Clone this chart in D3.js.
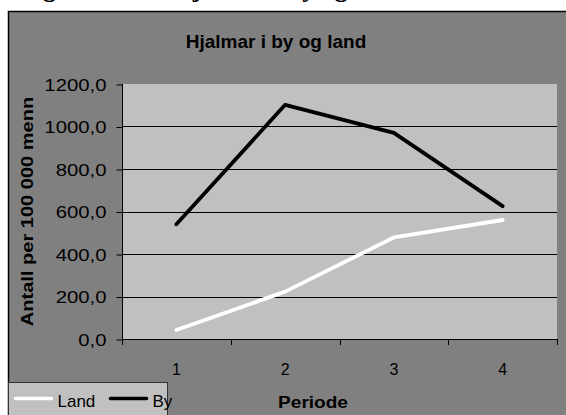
<!DOCTYPE html>
<html>
<head>
<meta charset="utf-8">
<script src="https://cdn.jsdelivr.net/npm/d3@7"></script>
<style>
  html, body { margin: 0; padding: 0; background: #fff; }
  svg { display: block; font-family: "Liberation Sans", Arial, sans-serif; }
</style>
</head>
<body>
<svg id="chart" width="566" height="415"></svg>
<script>
// ========= data =========
const periods = ["1", "2", "3", "4"];
const landValues = [42, 223, 478, 560];
const byValues = [540, 1102, 970, 625];
const yTicks = [0, 200, 400, 600, 800, 1000, 1200];

const series = [
    { name: "Land", values: landValues, color: "#ffffff" },
    { name: "By", values: byValues, color: "#000000" }
];

const FONT = "'Liberation Sans', Arial, sans-serif";

// ========= svg =========
const svg = d3.select("#chart");

// caption above the chart, mostly cut off by the top edge
svg.append("text")
    .attr("x", 20)
    .attr("y", -3)
    .attr("font-family", "'Liberation Serif', 'Times New Roman', serif")
    .attr("font-weight", "bold")
    .attr("font-size", 26)
    .text("Figur 14.12.1 Hjalmar i by og land");

// chart area
svg.append("rect")
    .attr("x", 8.5)
    .attr("y", 11.5)
    .attr("width", 600)
    .attr("height", 450)
    .attr("fill", "#808080")
    .attr("stroke", "#000")
    .attr("stroke-width", 1.5);

const plot = { left: 122, right: 557, top: 84, bottom: 339 };

const x = d3.scaleBand()
    .domain(periods)
    .range([plot.left, plot.right]);

const y = d3.scaleLinear()
    .domain([0, 1200])
    .range([plot.bottom, plot.top]);

// plot area
svg.append("rect")
    .attr("x", plot.left)
    .attr("y", plot.top)
    .attr("width", plot.right - plot.left)
    .attr("height", plot.bottom - plot.top)
    .attr("fill", "#c0c0c0");

// gridlines
svg.append("g")
    .selectAll("line")
    .data(yTicks.filter(d => d > 0 && d < 1200))
    .join("line")
    .attr("x1", plot.left)
    .attr("x2", plot.right)
    .attr("y1", d => Math.round(y(d)) + 0.5)
    .attr("y2", d => Math.round(y(d)) + 0.5)
    .attr("stroke", "#000")
    .attr("stroke-width", 1);

// ========= axes =========
const fmt = d => d3.format(".1f")(d).replace(".", ",");

const yAxis = svg.append("g")
    .attr("transform", `translate(${plot.left + 0.5},0.5)`)
    .call(d3.axisLeft(y).tickValues(yTicks).tickSize(6).tickPadding(0).tickFormat(fmt));

yAxis.attr("font-family", FONT).attr("font-size", 16);
yAxis.select(".domain").attr("stroke", "#000").attr("d", `M0,${plot.top - 0.5}V${plot.bottom}`);
yAxis.selectAll("line").attr("stroke", "#000");
yAxis.selectAll("text")
    .attr("font-size", 16)
    .attr("fill", "#000")
    .attr("dy", null)
    .attr("y", 5.5)
    .attr("x", -16)
    .attr("text-anchor", "end")
    .each(function () {
        // labels in the original are drawn wider than the font
        const w = this.getComputedTextLength();
        d3.select(this)
            .attr("textLength", w * 1.27)
            .attr("lengthAdjust", "spacingAndGlyphs");
    });

const xAxis = svg.append("g")
    .attr("transform", `translate(0,${plot.bottom + 0.5})`)
    .call(d3.axisBottom(x).tickSize(0).tickPadding(0));

xAxis.attr("font-family", FONT).attr("font-size", 16);
xAxis.select(".domain").attr("stroke", "#000").attr("d", `M${plot.left},0H${plot.right}`);
xAxis.selectAll("text")
    .attr("font-size", 16)
    .attr("fill", "#000")
    .attr("dy", null)
    .attr("y", 35);

// x ticks sit on the band edges
svg.append("g")
    .selectAll("line")
    .data(periods.map(p => x(p)).concat([plot.right]))
    .join("line")
    .attr("x1", d => Math.round(d) + 0.5)
    .attr("x2", d => Math.round(d) + 0.5)
    .attr("y1", plot.bottom)
    .attr("y2", plot.bottom + 6)
    .attr("stroke", "#000");

// ========= lines =========
const line = d3.line()
    .x((d, i) => x(periods[i]) + x.bandwidth() / 2)
    .y(d => y(d));

svg.append("g")
    .selectAll("path")
    .data(series)
    .join("path")
    .attr("d", d => line(d.values))
    .attr("fill", "none")
    .attr("stroke", d => d.color)
    .attr("stroke-width", 3.8)
    .attr("stroke-linecap", "round")
    .attr("stroke-linejoin", "round");

// ========= titles =========
svg.append("text")
    .attr("x", 276)
    .attr("y", 48)
    .attr("text-anchor", "middle")
    .attr("font-weight", "bold")
    .attr("font-size", 19)
    .text("Hjalmar i by og land");

svg.append("text")
    .attr("text-anchor", "middle")
    .attr("font-weight", "bold")
    .attr("font-size", 16)
    .attr("transform", "translate(313,408) scale(1.19,1)")
    .text("Periode");

svg.append("text")
    .attr("text-anchor", "middle")
    .attr("font-weight", "bold")
    .attr("font-size", 17)
    .attr("transform", `translate(33,${(plot.top + plot.bottom) / 2}) rotate(-90) scale(1.18,1)`)
    .text("Antall per 100 000 menn");

// ========= legend =========
const legend = svg.append("g")
    .attr("transform", "translate(8.5,382.5)");

legend.append("rect")
    .attr("width", 159)
    .attr("height", 60)
    .attr("fill", "#c0c0c0")
    .attr("stroke", "#333")
    .attr("stroke-width", 1);

const legendX = d3.scaleOrdinal()
    .domain(series.map(s => s.name))
    .range([7, 102]);

const items = legend.selectAll(".item")
    .data(series)
    .join("g")
    .attr("class", "item")
    .attr("transform", d => `translate(${legendX(d.name)},0)`);

items.append("line")
    .attr("x1", 0)
    .attr("x2", 36)
    .attr("y1", 16)
    .attr("y2", 16)
    .attr("stroke", d => d.color)
    .attr("stroke-width", 3.5)
    .attr("stroke-linecap", "round");

items.append("text")
    .attr("x", 42)
    .attr("y", 24)
    .attr("font-size", 17)
    .attr("fill", "#000")
    .text(d => d.name);
</script>
</body>
</html>
